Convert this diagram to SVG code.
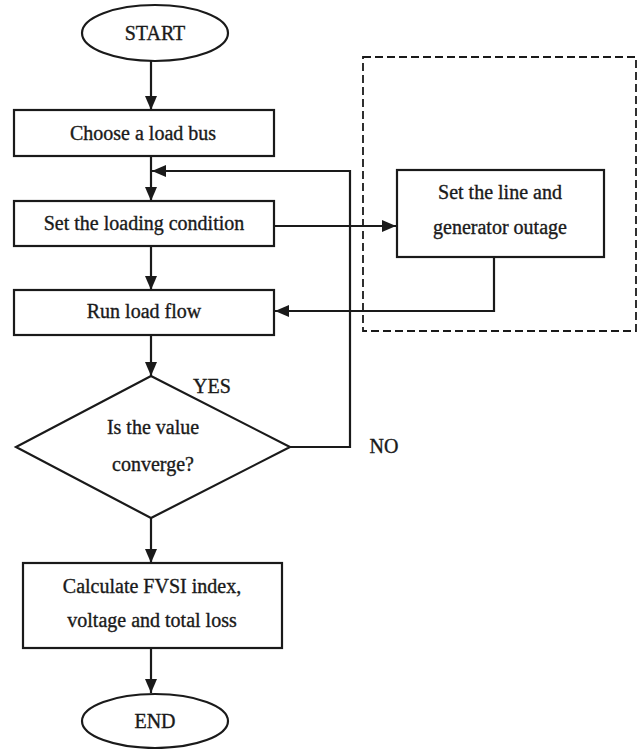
<svg xmlns="http://www.w3.org/2000/svg" width="640" height="749" viewBox="0 0 640 749">
<style>
.s{fill:#fff;stroke:#1a1a1a;stroke-width:2.2}
.t{font-family:"Liberation Serif","Times New Roman",serif;font-size:20px;fill:#1a1a1a;stroke:#1a1a1a;stroke-width:0.35;text-anchor:middle}
.c{fill:none;stroke:#1a1a1a;stroke-width:2.2}
</style>
<defs>
<marker id="b" viewBox="0 0 14 12" refX="14" refY="6" markerWidth="14" markerHeight="12" markerUnits="userSpaceOnUse" orient="auto">
<path d="M0,0 L14,6 L0,12 Z" fill="#1a1a1a"/>
</marker>
</defs>
<rect width="640" height="749" fill="#fff"/>
<rect x="363" y="57" width="273" height="274" fill="none" stroke="#1a1a1a" stroke-width="1.8" stroke-dasharray="8,4"/>
<g id="connectors">
<line class="c" x1="151" y1="61" x2="151" y2="110" marker-end="url(#b)"/>
<line class="c" x1="151" y1="156" x2="151" y2="201" marker-end="url(#b)"/>
<polyline class="c" points="290,447 350,447 350,171 152,171" marker-end="url(#b)"/>
<line class="c" x1="274" y1="226" x2="396" y2="226" marker-end="url(#b)"/>
<polyline class="c" points="494,257 494,311 275,311" marker-end="url(#b)"/>
<line class="c" x1="151" y1="246" x2="151" y2="290" marker-end="url(#b)"/>
<line class="c" x1="151" y1="335" x2="151" y2="376" marker-end="url(#b)"/>
<line class="c" x1="151" y1="518" x2="151" y2="563" marker-end="url(#b)"/>
<line class="c" x1="151" y1="648" x2="151" y2="693" marker-end="url(#b)"/>
</g>
<g id="start"><ellipse class="s" cx="155" cy="33" rx="73" ry="28"/><text class="t" x="155" y="40">START</text></g>
<g id="choose"><rect class="s" x="14" y="110" width="260" height="46"/><text class="t" x="143" y="140">Choose a load bus</text></g>
<g id="loading"><rect class="s" x="14" y="201" width="260" height="45"/><text class="t" x="144" y="230">Set the loading condition</text></g>
<g id="outage"><rect class="s" x="397" y="170" width="207" height="87"/><text class="t" x="500" y="199">Set the line and</text><text class="t" x="500" y="234">generator outage</text></g>
<g id="run"><rect class="s" x="14" y="290" width="260" height="45"/><text class="t" x="144" y="318">Run load flow</text></g>
<g id="decision"><polygon class="s" points="151,376 290,447 151,518 16,447"/><text class="t" x="153" y="434">Is the value</text><text class="t" x="153" y="471">converge?</text></g>
<text class="t" x="212" y="393">YES</text>
<text class="t" x="384" y="453">NO</text>
<g id="calc"><rect class="s" x="23" y="563" width="259" height="85"/><text class="t" x="152" y="593">Calculate FVSI index,</text><text class="t" x="152" y="627">voltage and total loss</text></g>
<g id="end"><ellipse class="s" cx="155" cy="721" rx="73" ry="27"/><text class="t" x="155" y="728">END</text></g>
</svg>
